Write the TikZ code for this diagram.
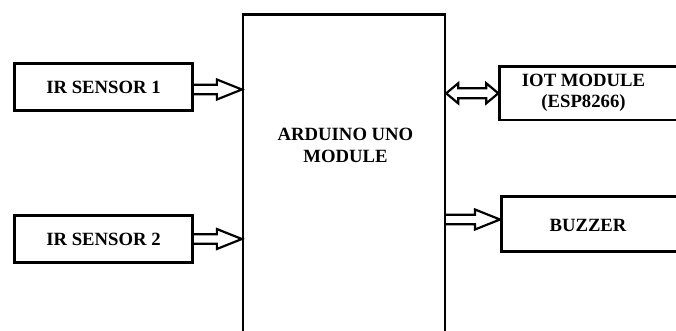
\documentclass[tikz,border=0pt]{standalone}
\usepackage{fontspec}
\setmainfont{Liberation Serif}
\usetikzlibrary{calc}

\tikzset{
  box/.style={draw, line width=2.6pt, inner sep=0pt},
  txt/.style={font=\bfseries\fontsize{18.7}{21.5}\selectfont, align=center},
  hollow/.style={line width=2.2pt, line join=miter, to path={let \p1=(\tikztostart), \p2=(\tikztotarget) in
    (\x1,\y1+4.7pt) -- (\x2-25pt,\y1+4.7pt) -- (\x2-25pt,\y1+10pt) -- (\x2,\y1)
    -- (\x2-25pt,\y1-10pt) -- (\x2-25pt,\y1-4.7pt) -- (\x1,\y1-4.7pt)}},
  dhollow/.style={line width=2.2pt, line join=miter, to path={let \p1=(\tikztostart), \p2=(\tikztotarget) in
    (\x1,\y1) -- (\x1+12pt,\y1+10pt) -- (\x1+12pt,\y1+5pt) -- (\x2-12pt,\y1+5pt) -- (\x2-12pt,\y1+10pt)
    -- (\x2,\y1) -- (\x2-12pt,\y1-10pt) -- (\x2-12pt,\y1-5pt) -- (\x1+12pt,\y1-5pt) -- (\x1+12pt,\y1-10pt) -- cycle}}
}

\begin{document}
\begin{tikzpicture}[x=1pt, y=-1pt]
  \clip (0,0) rectangle (676,330);

  \node[box, txt, minimum width=178, minimum height=47] (s1) at (103.5,87) {IR SENSOR 1};
  \node[box, txt, minimum width=178, minimum height=47] (s2) at (103.5,239) {IR SENSOR 2};
  \node[box, minimum width=201.7, minimum height=331.7, anchor=north] (ard) at (344,13.3) {};
  \node[box, minimum width=201.7, minimum height=53.3, anchor=west] (iot) at (498.3,93.3) {};
  \node[box, minimum width=200, minimum height=55, anchor=west] (bz) at (500,224.2) {};

  \node[txt] (ardtxt) at (345.5,145.5) {ARDUINO UNO\\MODULE};
  \node[txt] (iottxt) at (583.5,93) {IOT MODULE\\(ESP8266)};
  \node[txt] (bztxt) at (588,225) {BUZZER};

  \coordinate (bzin) at ([yshift=4.7pt]bz.west);

  \draw[hollow] ([yshift=-2.5pt]s1.east) to (ard.west);
  \draw[hollow] (s2.east) to (ard.west);
  \draw[dhollow] (ard.east |- iot.west) to (iot.west);
  \draw[hollow] (ard.east |- bzin) to (bzin);
\end{tikzpicture}
\end{document}
